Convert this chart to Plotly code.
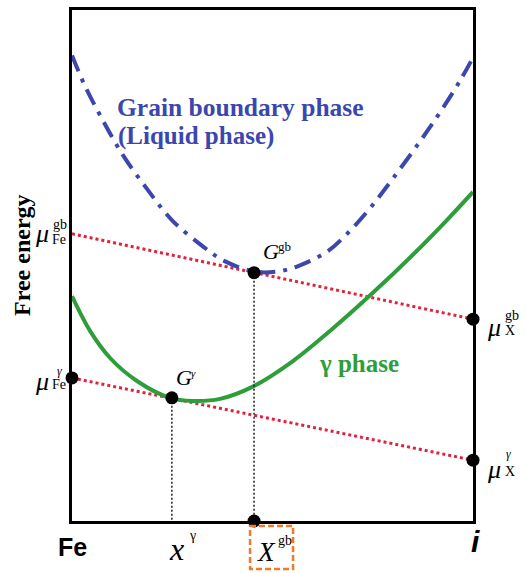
import plotly.graph_objects as go

# ---- data (composition x from Fe=0 to i=1, free energy normalised 0..1) ----
gb_x = [0, 0.032, 0.077, 0.127, 0.187, 0.249, 0.327, 0.382, 0.456, 0.511,
        0.561, 0.636, 0.686, 0.743, 0.800, 0.868, 0.918, 0.968, 1.0]
gb_y = [0.911, 0.852, 0.784, 0.716, 0.650, 0.589, 0.537, 0.508, 0.488, 0.488,
        0.498, 0.527, 0.562, 0.612, 0.670, 0.743, 0.800, 0.862, 0.907]

gam_x = [0, 0.045, 0.095, 0.162, 0.244, 0.302, 0.369, 0.451, 0.551, 0.651,
         0.751, 0.850, 0.935, 1.0]
gam_y = [0.440, 0.372, 0.319, 0.274, 0.241, 0.235, 0.239, 0.263, 0.313, 0.377,
         0.447, 0.521, 0.589, 0.644]

mu_gb = [0.562, 0.395]   # chemical potentials at Fe and X, grain boundary tangent
mu_gam = [0.280, 0.119]  # chemical potentials at Fe and X, gamma tangent
ends_x = [0, 1]

G_gb = (0.454, 0.486)
G_gam = (0.249, 0.241)

RED = "#e3213d"
BLUE = "#3b47ad"
GREEN = "#2e9e3b"
SERIF = "Liberation Serif"
SANS = "Liberation Sans"

fig = go.Figure()

# tangent lines
fig.add_trace(go.Scatter(x=ends_x, y=mu_gb, mode="lines",
                         line=dict(color=RED, width=3, dash="3px,3px")))
fig.add_trace(go.Scatter(x=ends_x, y=mu_gam, mode="lines",
                         line=dict(color=RED, width=3, dash="3px,3px")))
# gamma phase curve
fig.add_trace(go.Scatter(x=gam_x, y=gam_y, mode="lines", line_shape="spline",
                         line=dict(color=GREEN, width=4)))
# grain boundary curve
fig.add_trace(go.Scatter(x=gb_x, y=gb_y, mode="lines", line_shape="spline",
                         line=dict(color=BLUE, width=4, dash="17px,8px,4px,8px")))
# vertical drop lines
for gx, gy in (G_gb, G_gam):
    fig.add_trace(go.Scatter(x=[gx, gx], y=[gy, 0], mode="lines",
                             line=dict(color="#222222", width=1.5, dash="2px,2px")))
# dots
dot_x = [0, 1, 1, G_gb[0], G_gam[0], G_gb[0]]
dot_y = [mu_gam[0], mu_gb[1], mu_gam[1], G_gb[1], G_gam[1], 0]
fig.add_trace(go.Scatter(x=dot_x, y=dot_y, mode="markers", cliponaxis=False,
                         marker=dict(color="black", size=13)))

ann = []
def A(x, y, text, size, family=SERIF, color="black", xanchor="center",
      yanchor="middle", xshift=0, yshift=0, xref="x", yref="y", angle=0):
    ann.append(dict(x=x, y=y, xref=xref, yref=yref, text=text, showarrow=False,
                    font=dict(size=size, family=family, color=color),
                    xanchor=xanchor, yanchor=yanchor, xshift=xshift,
                    yshift=yshift, textangle=angle))

# axis labels
A(-0.123, 0.52, "<b>Free energy</b>", 24, xref="paper", yref="paper", angle=-90)
A(0, 0, "<b>Fe</b>", 25, family=SANS, yanchor="top", yshift=-10)
A(1, 0, "<b><i>i</i></b>", 30, family=SANS, yanchor="top", yshift=-2, xshift=2)
A(G_gam[0], 0, "<i>x</i>", 32, yanchor="top", yshift=-8, xshift=5)
A(G_gam[0], 0, "γ", 14, yanchor="top", yshift=-5, xshift=21)
A(G_gb[0], 0, "<i>X</i>", 27, yanchor="top", yshift=-14, xshift=12)
A(G_gb[0], 0, "gb", 14, yanchor="top", yshift=-10, xshift=31)

# chemical potential labels
A(0, mu_gb[0], "<i>μ</i>", 26, xanchor="right", xshift=-21, yshift=0)
A(0, mu_gb[0], "gb", 14, xanchor="right", xshift=-3, yshift=9)
A(0, mu_gb[0], "Fe", 14, xanchor="right", xshift=-4, yshift=-6)
A(0, mu_gam[0], "<i>μ</i>", 26, xanchor="right", xshift=-21, yshift=-4)
A(0, mu_gam[0], "<i>γ</i>", 12, xanchor="right", xshift=-8, yshift=7)
A(0, mu_gam[0], "Fe", 14, xanchor="right", xshift=-4, yshift=-7)
A(1, mu_gb[1], "<i>μ</i>", 26, xanchor="left", xshift=12, yshift=-8)
A(1, mu_gb[1], "gb", 14, xanchor="left", xshift=30, yshift=4)
A(1, mu_gb[1], "X", 14, xanchor="left", xshift=30, yshift=-11)
A(1, mu_gam[1], "<i>μ</i>", 26, xanchor="left", xshift=12, yshift=-9)
A(1, mu_gam[1], "<i>γ</i>", 12, xanchor="left", xshift=31, yshift=6)
A(1, mu_gam[1], "X", 14, xanchor="left", xshift=30, yshift=-11)

# G labels
A(G_gb[0], G_gb[1], "<i>G</i>", 22, xanchor="left", xshift=7, yshift=21)
A(G_gb[0], G_gb[1], "gb", 13, xanchor="left", xshift=22, yshift=26)
A(G_gam[0], G_gam[1], "<i>G</i>", 22, xanchor="left", xshift=2, yshift=20)
A(G_gam[0], G_gam[1], "<i>γ</i>", 11, xanchor="left", xshift=17, yshift=25)

# phase labels
A(0.106, 0.81, "<b>Grain boundary phase</b>", 25.5, color=BLUE, xanchor="left")
A(0.11, 0.753, "<b>(Liquid phase)</b>", 25, color=BLUE, xanchor="left")
A(0.61, 0.308, "<b>γ phase</b>", 25, color=GREEN, xanchor="left")

fig.update_layout(
    width=527, height=573,
    margin=dict(l=72, r=54, t=7, b=52),
    paper_bgcolor="white", plot_bgcolor="white",
    showlegend=False,
    annotations=ann,
    xaxis=dict(range=[0, 1], showgrid=False, zeroline=False, showticklabels=False,
               ticks="", showline=True, mirror=True, linecolor="black", linewidth=2.5),
    yaxis=dict(range=[0, 1], showgrid=False, zeroline=False, showticklabels=False,
               ticks="", showline=True, mirror=True, linecolor="black", linewidth=2.5),
)

# orange dashed box around X^gb (pixel-sized, anchored at the X^gb position)
fig.add_shape(type="rect", xref="paper", yref="paper", xsizemode="pixel",
              ysizemode="pixel", xanchor=G_gb[0], yanchor=0,
              x0=-4, x1=39, y0=-5, y1=-48,
              line=dict(color="#f07a2a", width=2.5, dash="6px,3px"))

fig.write_html("out.html")
